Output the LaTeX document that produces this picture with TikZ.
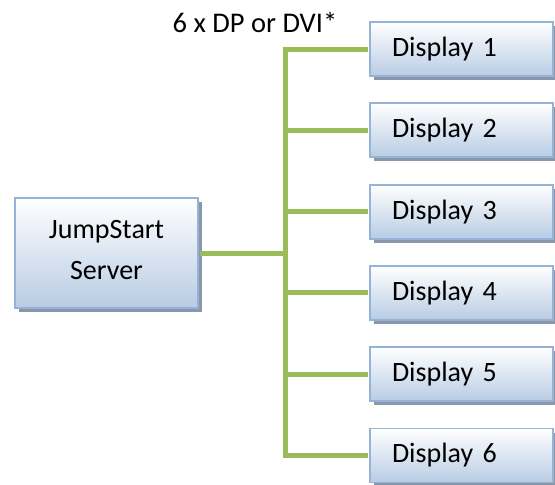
\documentclass[tikz,border=0pt]{standalone}
\usepackage{fontspec}
\setmainfont{Carlito}
\usetikzlibrary{shadows}
\definecolor{boxborder}{HTML}{95B3D7}
\definecolor{boxbottom}{HTML}{B8CCE4}
\definecolor{shadowgray}{HTML}{8A97A8}
\definecolor{linkgreen}{HTML}{9BBB59}
\tikzset{
  boxbase/.style={draw=boxborder, line width=1.8pt, top color=white, bottom color=boxbottom,
    font=\fontsize{28}{41}\selectfont,
    drop shadow={shadow xshift=4pt, shadow yshift=-4pt, fill=shadowgray, opacity=1}},
  srvbox/.style={boxbase, minimum width=183pt, minimum height=110pt, align=center, inner sep=0pt, text depth=7pt},
  dispbox/.style={boxbase, minimum height=54pt, inner xsep=22pt, inner ysep=0pt, text width=139pt, align=left},
  link/.style={draw=linkgreen, line width=5pt, line join=miter},
  lbl/.style={font=\fontsize{28.5}{34}\selectfont, inner sep=0pt}
}
\begin{document}
\begin{tikzpicture}[x=1pt,y=-1pt]
\useasboundingbox (0,0) rectangle (555,485);
\coordinate (bus) at (285,0);
\node[srvbox] (srv) at (106.5,253) {JumpStart\\Server};
\node[dispbox] (d1) at (461.5,49) {Display 1};
\node[dispbox] (d2) at (461.5,130.3) {Display 2};
\node[dispbox] (d3) at (461.5,211.6) {Display 3};
\node[dispbox] (d4) at (461.5,292.9) {Display 4};
\node[dispbox] (d5) at (461.5,374.2) {Display 5};
\node[dispbox] (d6) at (461.5,455.5) {Display 6};
\node[lbl, anchor=base] (cap) at (255,32) {6 x DP or DVI*};
\draw[link, shorten <=1pt, shorten >=1pt] (d1.west) -- (d1.west -| bus) -- (d6.west -| bus) -- (d6.west);
\draw[link, shorten <=1pt] (srv.east) -- (srv.east -| bus);
\foreach \k in {2,3,4,5} \draw[link, shorten >=1pt] (d\k.west -| bus) -- (d\k.west);
\end{tikzpicture}
\end{document}
